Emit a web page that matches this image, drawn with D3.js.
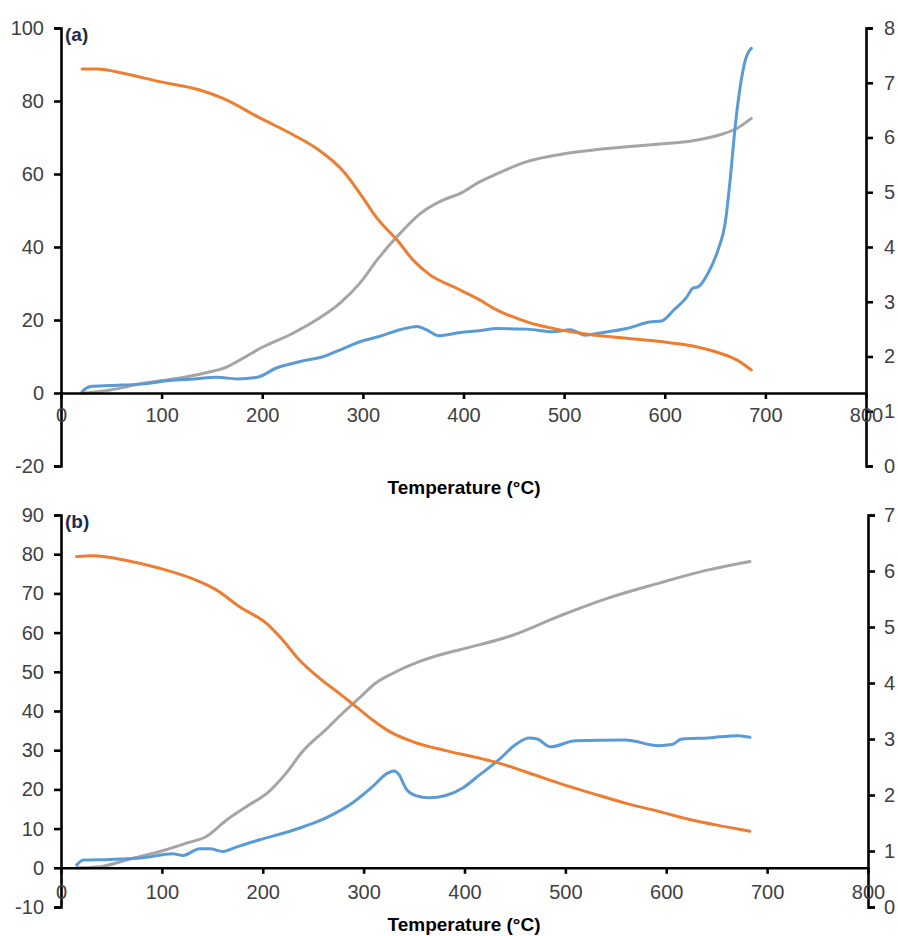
<!DOCTYPE html>
<html>
<head>
<meta charset="utf-8">
<script src="https://cdn.jsdelivr.net/npm/d3@7"></script>
<style>
  html, body { margin: 0; padding: 0; background: #ffffff; }
  svg { display: block; }
  text { font-family: "Liberation Sans", Arial, sans-serif; }
</style>
</head>
<body>
<svg id="chart" width="898" height="936"></svg>
<script>
// ---------------- DATA ----------------
const xTicks = [0, 100, 200, 300, 400, 500, 600, 700, 800];
const leftTicksA = [-20, 0, 20, 40, 60, 80, 100];
const rightTicksA = [0, 1, 2, 3, 4, 5, 6, 7, 8];
const leftTicksB = [-10, 0, 10, 20, 30, 40, 50, 60, 70, 80, 90];
const rightTicksB = [0, 1, 2, 3, 4, 5, 6, 7];
const xTitle = "Temperature (°C)";

// Panel (a): orange on left axis, gray and blue on right axis
const orangeA_T = [21,36,65,98,138,161,198,231,254,281,297,314,334,350,367,390,416,430,463,496,529,562,595,628,655,672,686];
const orangeA_V = [88.8,88.8,87.4,85.3,83.0,80.7,75.3,70.7,67.0,60.6,54.7,47.9,41.9,36.4,32.3,29.1,25.5,23.2,19.5,17.3,15.9,15.0,14.1,12.9,10.9,9.0,6.3];
const grayA_T = [21,49,82,115,141,165,182,198,231,254,277,297,314,334,357,380,397,416,430,463,496,529,562,595,628,655,672,686];
const grayA_V = [1.33,1.39,1.51,1.60,1.69,1.81,1.98,2.15,2.43,2.67,2.97,3.34,3.76,4.19,4.61,4.86,4.98,5.19,5.31,5.56,5.69,5.77,5.83,5.88,5.94,6.05,6.17,6.35];
const blueA_T = [21,29,49,82,108,132,155,175,195,214,238,261,281,297,317,337,354,363,375,397,416,433,463,489,506,521,536,562,585,597,609,622,628,633,643,653,660,665,670,675,680,686];
const blueA_V = [1.36,1.45,1.47,1.50,1.56,1.59,1.62,1.59,1.62,1.79,1.91,2.00,2.15,2.27,2.37,2.49,2.55,2.49,2.38,2.44,2.47,2.51,2.50,2.45,2.49,2.39,2.43,2.51,2.63,2.65,2.85,3.09,3.25,3.27,3.52,3.95,4.43,5.23,6.20,6.93,7.41,7.63];

// Panel (b)
const orangeB_T = [15.5,31.9,65.0,97.9,137.4,153.9,177.0,203.4,219.8,236.3,256.1,275.9,292.4,308.9,325.4,348.4,381.4,414.3,434.1,460.5,493.4,526.4,559.4,592.3,625.3,658.3,683.0];
const orangeB_V = [79.4,79.6,78.4,76.4,73.0,70.9,66.6,62.4,58.1,53.0,48.4,44.5,41.1,37.7,34.8,32.2,29.9,28.0,26.7,24.5,21.6,19.0,16.5,14.4,12.2,10.5,9.3];
const grayB_T = [15.5,38.6,65.0,97.9,124.3,144.1,163.9,183.6,206.7,223.2,239.6,262.7,279.1,295.6,312.1,328.6,355.0,381.4,394.5,414.3,444.0,493.4,542.9,592.3,641.8,683.0];
const grayB_V = [0.70,0.72,0.84,0.99,1.14,1.26,1.55,1.79,2.07,2.39,2.78,3.17,3.46,3.73,4.00,4.17,4.38,4.53,4.59,4.68,4.83,5.19,5.52,5.78,6.02,6.17];
const blueB_T = [15.5,22.1,48.5,81.4,111.0,120.9,137.4,147.4,160.5,173.7,196.8,229.8,262.7,289.1,308.9,323.7,330.3,335.2,341.8,351.7,364.9,381.4,397.8,414.3,434.1,450.7,463.8,472.1,485.3,510.0,559.4,592.3,605.5,615.4,641.8,671.5,683.0];
const blueB_V = [0.75,0.84,0.85,0.88,0.95,0.92,1.04,1.04,0.99,1.07,1.20,1.37,1.59,1.86,2.15,2.39,2.43,2.36,2.12,1.99,1.95,1.99,2.12,2.35,2.63,2.90,3.02,3.00,2.86,2.97,2.98,2.88,2.90,3.00,3.02,3.06,3.03];

const colors = { orange: "#ED7D31", gray: "#A5A5A5", blue: "#5B9BD5" };

// ---------------- DRAW ----------------
const svg = d3.select("#chart");
svg.append("rect").attr("width", 898).attr("height", 936).attr("fill", "#fff");

function zip(t, v) { return t.map((d, i) => ({ t: d, v: v[i] })); }
const fmt = d => String(d);

function drawPanel(cfg) {
  const g = svg.append("g");
  const x = d3.scaleLinear().domain([0, 800]).range([cfg.x0, cfg.x1]);
  const yL = d3.scaleLinear().domain(cfg.leftDomain).range([cfg.yBottom, cfg.yTop]);
  const yR = d3.scaleLinear().domain(cfg.rightDomain).range([cfg.yBottom, cfg.yTop]);

  const styleAxis = (sel) => {
    sel.selectAll("path.domain").attr("stroke", "#000").attr("stroke-width", 2.6);
    sel.selectAll(".tick line").attr("stroke", "#000").attr("stroke-width", 2.6);
    sel.selectAll(".tick text").attr("fill", "#404040").attr("font-size", 20)
      .attr("font-family", "'Liberation Sans', Arial, sans-serif");
  };

  // left axis
  g.append("g").attr("transform", `translate(${cfg.x0},0)`)
    .call(d3.axisLeft(yL).tickValues(cfg.leftTicks).tickSize(7).tickSizeOuter(7).tickPadding(10).tickFormat(fmt))
    .call(styleAxis);
  // right axis
  g.append("g").attr("transform", `translate(${cfg.x1},0)`)
    .call(d3.axisRight(yR).tickValues(cfg.rightTicks).tickSize(7).tickSizeOuter(7).tickPadding(cfg.rPad).tickFormat(fmt))
    .call(styleAxis);

  // lines
  const lineL = d3.line().x(d => x(d.t)).y(d => yL(d.v)).curve(d3.curveMonotoneX);
  const lineR = d3.line().x(d => x(d.t)).y(d => yR(d.v)).curve(d3.curveMonotoneX);
  cfg.series.forEach(s => {
    g.append("path").datum(zip(s.t, s.v))
      .attr("fill", "none").attr("stroke", s.color).attr("stroke-width", 3)
      .attr("stroke-linejoin", "round").attr("stroke-linecap", "round")
      .attr("d", s.axis === "left" ? lineL : lineR);
  });

  // x axis at left-axis zero
  g.append("g").attr("transform", `translate(0,${yL(0)})`)
    .call(d3.axisBottom(x).tickValues(xTicks).tickSize(6).tickSizeOuter(0).tickPadding(cfg.xPad).tickFormat(fmt))
    .call(styleAxis);

  // axis title
  g.append("text").attr("x", 464).attr("y", cfg.titleY)
    .attr("text-anchor", "middle").attr("font-weight", "bold").attr("font-size", 19)
    .attr("fill", "#000").text(xTitle);

  // panel label
  g.append("text").attr("x", cfg.x0 + 4).attr("y", cfg.yTop + 13)
    .attr("font-weight", "bold").attr("font-size", 19).attr("fill", "#1c2b4a").text(cfg.label);
}

drawPanel({
  label: "(a)", x0: 61, x1: 866, yTop: 28, yBottom: 466,
  leftDomain: [-20, 100], rightDomain: [0, 8],
  leftTicks: leftTicksA, rightTicks: rightTicksA, xPad: 9, rPad: 11, titleY: 494,
  series: [
    { t: grayA_T, v: grayA_V, color: colors.gray, axis: "right" },
    { t: blueA_T, v: blueA_V, color: colors.blue, axis: "right" },
    { t: orangeA_T, v: orangeA_V, color: colors.orange, axis: "left" }
  ]
});

drawPanel({
  label: "(b)", x0: 61, x1: 868, yTop: 515, yBottom: 907,
  leftDomain: [-10, 90], rightDomain: [0, 7],
  leftTicks: leftTicksB, rightTicks: rightTicksB, xPad: 11, rPad: 9, titleY: 931,
  series: [
    { t: grayB_T, v: grayB_V, color: colors.gray, axis: "right" },
    { t: blueB_T, v: blueB_V, color: colors.blue, axis: "right" },
    { t: orangeB_T, v: orangeB_V, color: colors.orange, axis: "left" }
  ]
});
</script>
</body>
</html>
